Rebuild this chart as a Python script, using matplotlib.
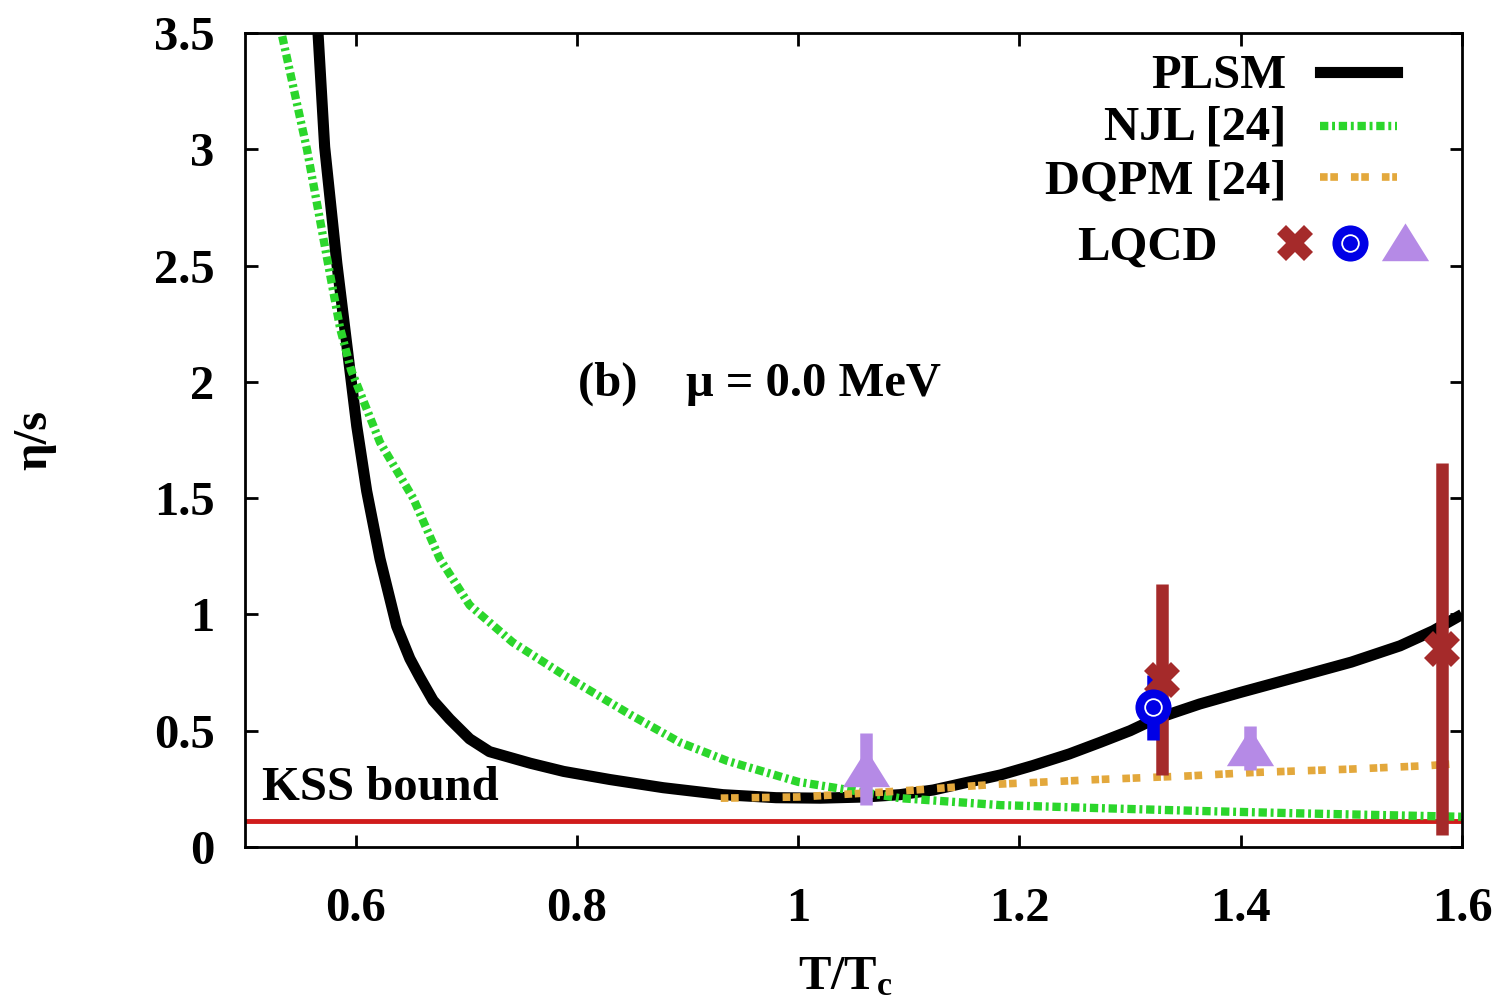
import numpy as np
import matplotlib
matplotlib.use("Agg")
import matplotlib.pyplot as plt

plt.rcParams['font.family'] = ['Liberation Serif', 'DejaVu Serif']
plt.rcParams['font.weight'] = 'bold'
plt.rcParams['axes.labelweight'] = 'bold'
plt.rcParams['mathtext.fontset'] = 'custom'
plt.rcParams['mathtext.rm'] = 'Liberation Serif:bold'
plt.rcParams['mathtext.it'] = 'Liberation Serif:italic:bold'

# PLSM curve
plsm_t = [0.560, 0.566, 0.572, 0.583, 0.592, 0.601, 0.610, 0.622, 0.637, 0.649, 0.658,
          0.670, 0.685, 0.703, 0.721, 0.758, 0.788, 0.83, 0.878, 0.932, 0.98, 1.02,
          1.06, 1.092, 1.122, 1.15, 1.183, 1.212, 1.245, 1.273, 1.30, 1.32, 1.338,
          1.363, 1.40, 1.454, 1.50, 1.544, 1.574, 1.60]
plsm_eta = [3.85, 3.50, 3.01, 2.51, 2.16, 1.81, 1.53, 1.24, 0.95, 0.81, 0.73,
            0.63, 0.55, 0.465, 0.41, 0.36, 0.325, 0.29, 0.255, 0.225, 0.212, 0.21,
            0.215, 0.225, 0.245, 0.275, 0.31, 0.35, 0.40, 0.45, 0.50, 0.545, 0.575,
            0.615, 0.665, 0.735, 0.795, 0.865, 0.93, 1.0]

# NJL [24]
njl_t = [0.528, 0.533, 0.556, 0.575, 0.586, 0.596, 0.622, 0.652, 0.676, 0.703, 0.742,
         0.788, 0.848, 0.893, 0.936, 1.0, 1.092, 1.183, 1.273, 1.363, 1.45, 1.60]
njl_eta = [3.7, 3.50, 3.0, 2.51, 2.23, 2.05, 1.74, 1.50, 1.24, 1.04, 0.88,
           0.74, 0.57, 0.45, 0.37, 0.28, 0.21, 0.18, 0.167, 0.155, 0.145, 0.13]

# DQPM [24]
dqpm_t = [0.93, 1.0, 1.09, 1.18, 1.27, 1.35, 1.41, 1.50, 1.57, 1.60]
dqpm_eta = [0.21, 0.215, 0.24, 0.27, 0.29, 0.305, 0.32, 0.335, 0.35, 0.36]

kss = 0.11

# LQCD points
lq_x_t, lq_x_eta, lq_x_err = [1.329, 1.582], [0.72, 0.85], [0.41, 0.80]
lq_o_t, lq_o_eta, lq_o_err = [1.321], [0.60], [0.14]
lq_tri_t, lq_tri_eta, lq_tri_err = [1.061, 1.408], [0.335, 0.425], [0.155, 0.095]

c_green = '#2bd62b'
c_orange = '#e3a83c'
c_brown = '#a52a2a'
c_blue = '#0000e6'
c_violet = '#b58ae6'
c_red = '#d01c1c'

tri = [(-1, -0.75), (1, -0.75), (0, 0.85), (-1, -0.75)]
njl_dash = (1.0, 0.45, 0.35, 0.45)
dqpm_dash = (1, 0.35, 1, 1.7)

fig = plt.figure(figsize=(15.06, 10.07), dpi=100)
ax = fig.add_axes([245 / 1506, 160 / 1007, 1217 / 1506, 814 / 1007])

ax.axhline(kss, color=c_red, lw=3.5, zorder=2)
ax.plot(plsm_t, plsm_eta, color='black', lw=8, solid_capstyle='butt', solid_joinstyle='round', zorder=3)
ax.plot(njl_t, njl_eta, color=c_green, lw=6, dashes=njl_dash, zorder=4)
ax.plot(dqpm_t, dqpm_eta, color=c_orange, lw=5.5, dashes=dqpm_dash, zorder=4)

eb = dict(elinewidth=9, capsize=6, capthick=6, ls='none', zorder=5)
ax.errorbar(lq_x_t, lq_x_eta, yerr=lq_x_err, color=c_brown, marker='X', ms=26, mew=0, **eb)
ax.errorbar(lq_o_t, lq_o_eta, yerr=lq_o_err, color=c_blue, marker='o', ms=26, mew=0, **eb)
ax.plot(lq_o_t, lq_o_eta, ls='none', marker='o', ms=12, mfc='none', mec='white', mew=1.3, zorder=6)
ax.errorbar(lq_tri_t, lq_tri_eta, yerr=lq_tri_err, color=c_violet, marker=tri, ms=34, mew=0, **eb)

ax.set_xlim(0.5, 1.6)
ax.set_ylim(0, 3.5)
ax.set_xticks([0.6, 0.8, 1.0, 1.2, 1.4, 1.6])
ax.set_xticklabels(['0.6', '0.8', '1', '1.2', '1.4', '1.6'])
ax.set_yticks(np.arange(0, 3.51, 0.5))
ax.set_yticklabels(['0', '0.5', '1', '1.5', '2', '2.5', '3', '3.5'])
ax.tick_params(direction='in', length=9, width=2, top=True, right=True, labelsize=35)
ax.tick_params(axis='x', pad=29)
ax.tick_params(axis='y', pad=22)
for s in ax.spines.values():
    s.set_linewidth(2)

ax.set_xlabel(r'T/T$_{\rm c}$', fontsize=35)
ax.xaxis.set_label_coords(0.493, -0.133)
ax.set_ylabel('η/s', fontsize=35)
ax.yaxis.set_label_coords(-0.155, 0.5)

ax.text(0.801, 1.94, '(b)    μ = 0.0 MeV', fontsize=35, va='baseline')
ax.text(0.515, 0.2, 'KSS bound', fontsize=35, va='baseline')

# gnuplot-like key
tr = ax.transAxes
keys = [('PLSM', 0.932, 0.952, dict(color='black', lw=8)),
        ('NJL [24]', 0.869, 0.886, dict(color=c_green, lw=6, dashes=njl_dash)),
        ('DQPM [24]', 0.803, 0.823, dict(color=c_orange, lw=5.5, dashes=dqpm_dash))]
for label, yb, yl, st in keys:
    ax.text(0.856, yb, label, transform=tr, ha='right', va='baseline', fontsize=35)
    ax.plot([0.883, 0.947], [yl, yl], transform=tr, clip_on=False, **st)
ax.text(0.799, 0.721, 'LQCD', transform=tr, ha='right', va='baseline', fontsize=35)
ax.plot([0.863], [0.742], transform=tr, marker='X', ms=26, mew=0, color=c_brown, clip_on=False)
ax.plot([0.908], [0.742], transform=tr, marker='o', ms=26, mew=0, color=c_blue, clip_on=False)
ax.plot([0.908], [0.742], transform=tr, marker='o', ms=12, mfc='none', mec='white', mew=1.3, clip_on=False)
ax.plot([0.953], [0.742], transform=tr, marker=tri, ms=34, mew=0, color=c_violet, clip_on=False)

fig.savefig('out.png', dpi=100)
